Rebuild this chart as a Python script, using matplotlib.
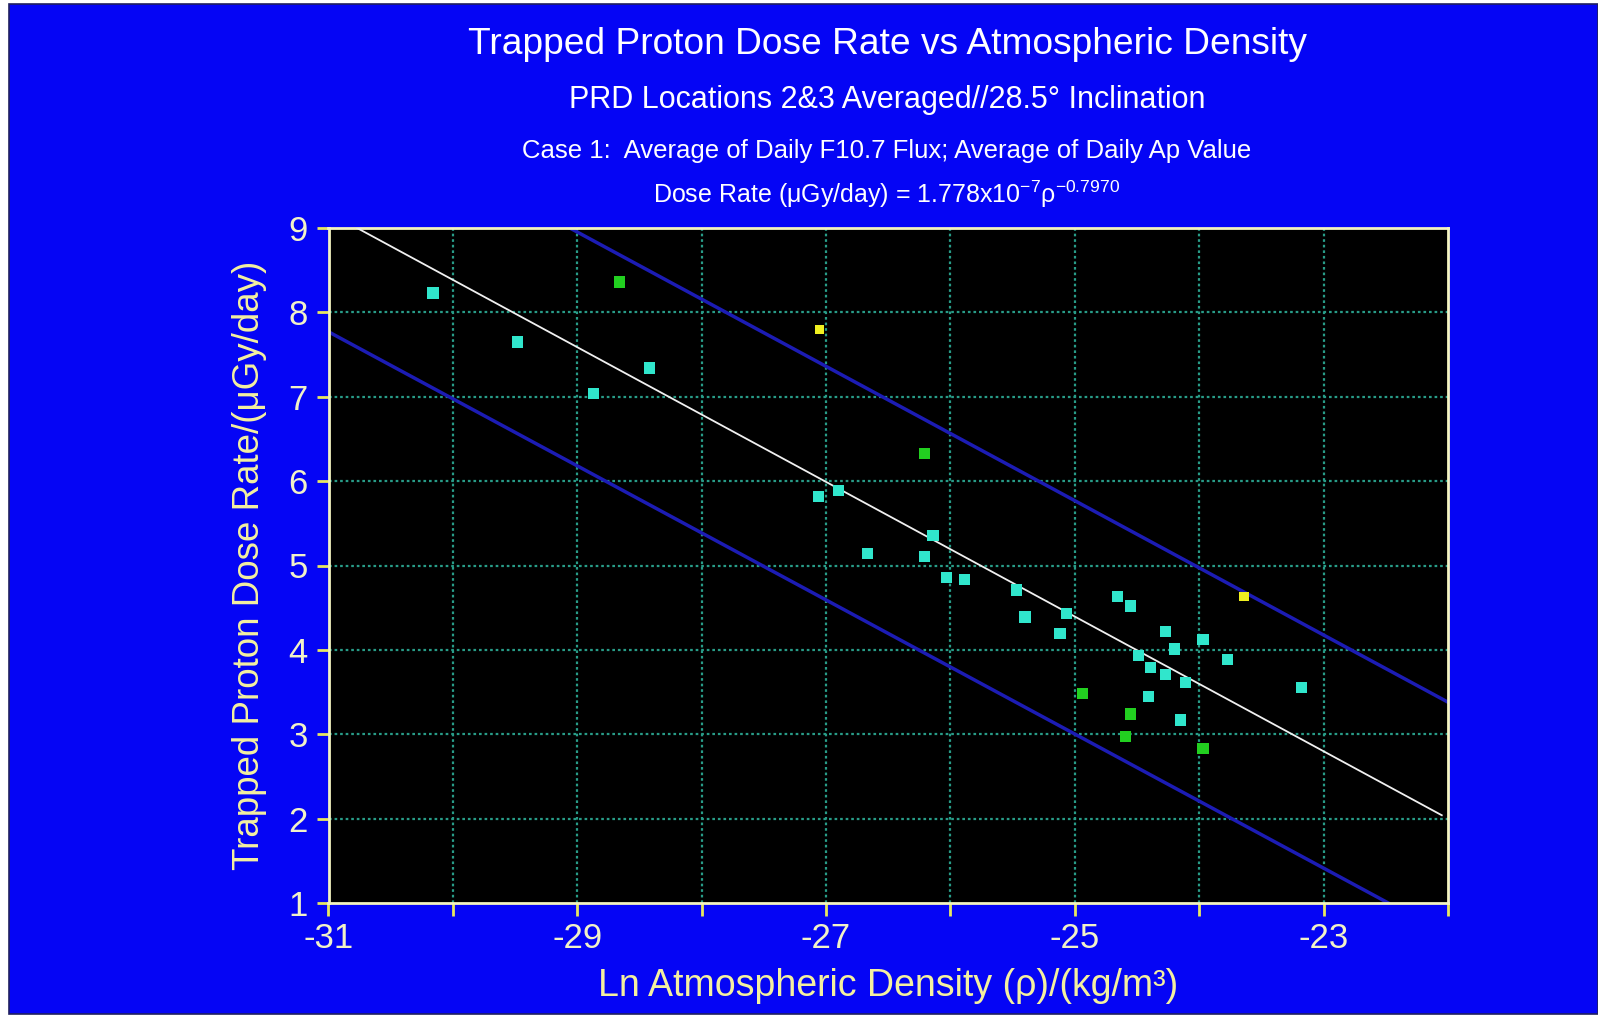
import matplotlib
matplotlib.use("Agg")
import matplotlib.pyplot as plt
from matplotlib.patches import Rectangle

plt.rcParams['font.family'] = ['Liberation Sans', 'DejaVu Sans']
plt.rcParams['mathtext.fontset'] = 'custom'
plt.rcParams['mathtext.rm'] = 'Liberation Sans'
plt.rcParams['mathtext.it'] = 'Liberation Sans'
plt.rcParams['axes.unicode_minus'] = False

# ---- data ----
cyan_x = [-30.16, -29.48, -28.42, -28.87, -27.06, -26.90, -26.14, -26.67, -26.21,
          -26.03, -25.89, -25.47, -25.40, -25.12, -25.07, -24.66, -24.55, -24.27,
          -23.97, -24.20, -24.49, -23.77, -24.39, -24.27, -24.11, -23.18, -24.41,
          -24.15]
cyan_y = [8.23, 7.65, 7.34, 7.04, 5.82, 5.89, 5.36, 5.14, 5.11,
          4.86, 4.83, 4.71, 4.39, 4.19, 4.43, 4.63, 4.52, 4.22,
          4.12, 4.01, 3.93, 3.89, 3.79, 3.71, 3.61, 3.55, 3.45,
          3.17]
green_x = [-28.66, -26.21, -24.94, -24.55, -24.59, -23.97]
green_y = [8.36, 6.33, 3.48, 3.24, 2.97, 2.83]
yellow_x = [-27.05, -23.64]
yellow_y = [7.80, 4.63]

fit_x = [-30.77, -22.05]
fit_y = [9.00, 2.04]
upper_x = [-29.06, -22.0]
upper_y = [9.00, 3.38]
lower_x = [-31.0, -22.48]
lower_y = [7.77, 1.0]

x_ticks = [-31, -29, -27, -25, -23]
x_minor = [-30, -28, -26, -24, -22]
y_ticks = [1, 2, 3, 4, 5, 6, 7, 8, 9]

title_lines = [
    "Trapped Proton Dose Rate vs Atmospheric Density",
    "PRD Locations 2&3 Averaged//28.5\u00b0 Inclination",
    "Case 1:  Average of Daily F10.7 Flux; Average of Daily Ap Value",
    "Dose Rate (\u03bcGy/day) = 1.778x10$^{-7}$\u03c1$^{-0.7970}$",
]
xlabel = "Ln Atmospheric Density (\u03c1)/(kg/m\u00b3)"
ylabel = "Trapped Proton Dose Rate/(\u03bcGy/day)"

# ---- figure ----
W, H = 1598, 1018
fig = plt.figure(figsize=(W / 100, H / 100), dpi=100, facecolor='white')
BLUE = '#0505f5'
fig.patches.append(Rectangle((9 / W, 4 / H), 1 - 9 / W, 1 - 8 / H, transform=fig.transFigure,
                             facecolor=BLUE, edgecolor='#202060', linewidth=1.2, zorder=-10))

ax = fig.add_axes([328.5 / W, 1 - 903 / H, (1448 - 328.5) / W, (903 - 228) / H])
ax.set_facecolor('black')
ax.set_xlim(-31, -22)
ax.set_ylim(1, 9)

grid_c = '#289c88'
for gx in x_ticks + x_minor:
    if -31 < gx < -22:
        ax.axvline(gx, color=grid_c, lw=1.6, ls=(0, (1.2, 1.3)), zorder=1)
for gy in y_ticks:
    if 1 < gy < 9:
        ax.axhline(gy, color=grid_c, lw=1.6, ls=(0, (1.2, 1.3)), zorder=1)

band_c = '#1c1cb4'
ax.plot(upper_x, upper_y, color=band_c, lw=2.5, zorder=2)
ax.plot(lower_x, lower_y, color=band_c, lw=2.5, zorder=2)
ax.plot(fit_x, fit_y, color='#f0f0f0', lw=1.3, zorder=3)

ax.scatter(cyan_x, cyan_y, marker='s', s=65, color='#30e6cc', edgecolors='none', zorder=4)
ax.scatter(green_x, green_y, marker='s', s=65, color='#22d020', edgecolors='none', zorder=4)
ax.scatter(yellow_x, yellow_y, marker='s', s=45, color='#f0f020', edgecolors='none', zorder=4)

spine_c = '#f4f4c0'
for s in ax.spines.values():
    s.set_color(spine_c)
    s.set_linewidth(2)

ax.set_xticks(x_ticks)
ax.set_xticks([v for v in x_minor], minor=True)
ax.set_yticks(y_ticks)
lab_c = '#f2f2c8'
ax.tick_params(axis='both', which='both', colors='#e8e860', length=9, width=2)
ax.tick_params(axis='both', which='major', labelcolor=lab_c, labelsize=25)
ax.tick_params(axis='x', which='major', pad=5)
ax.tick_params(axis='y', which='major', pad=6)

ax.set_xlabel(xlabel, color='#f4f0a0', fontsize=27, labelpad=9)
ax.set_ylabel(ylabel, color='#f4f0a0', fontsize=26.5, labelpad=15)

ys = [44, 100, 151, 194]
sizes = [26.7, 22, 18.5, 18]
for txt, yy, fs in zip(title_lines, ys, sizes):
    fig.text(887 / W, 1 - yy / H, txt, color='white', fontsize=fs, ha='center', va='center')

fig.savefig('out.png', dpi=100, facecolor=fig.get_facecolor())
